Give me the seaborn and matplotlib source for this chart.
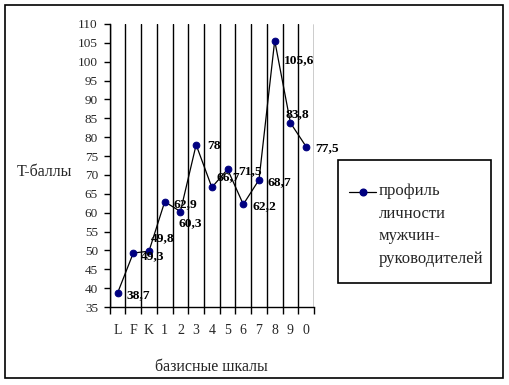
import numpy as np
import matplotlib
matplotlib.use("Agg")
import matplotlib.pyplot as plt
import seaborn as sns
from matplotlib.patches import Rectangle
from matplotlib.lines import Line2D

# ---- data ----
scales = ["L", "F", "K", "1", "2", "3", "4", "5", "6", "7", "8", "9", "0"]
t_scores = [38.7, 49.3, 49.8, 62.9, 60.3, 78.0, 66.7, 71.5, 62.2, 68.7, 105.6, 83.8, 77.5]
value_labels = ["38,7", "49,3", "49,8", "62,9", "60,3", "78", "66,7", "71,5",
                "62,2", "68,7", "105,6", "83,8", "77,5"]
y_ticks = list(range(35, 111, 5))
series_name = "профиль\nличности\nмужчин-\nруководителей"

# label offsets (pixels: right, down)
label_offsets = [(9, 2), (8, 3), (2, -13), (9, 2), (-2, 12), (11, 1), (5, -10),
                 (11, 2), (9, 2), (9, 2), (9, 20), (-5, -9), (9, 2)]

sns.set_theme(style="white")
plt.rcParams["font.family"] = ["Liberation Serif", "DejaVu Serif"]

W, H = 510, 385
fig = plt.figure(figsize=(W / 100, H / 100), dpi=100)
fig.patch.set_facecolor("white")
x0, x1, ytop, ybot = 109.7, 314.0, 24.0, 307.0
ax = fig.add_axes([x0 / W, 1 - ybot / H, (x1 - x0) / W, (ybot - ytop) / H])
ax.set_facecolor("white")

xs = np.arange(len(scales))
sns.lineplot(x=xs, y=t_scores, ax=ax, color="black", linewidth=0.9, sort=False,
             marker="o", markersize=4.8, markerfacecolor="#000080",
             markeredgecolor="#000080", zorder=3)

ax.set_xlim(-0.5, len(scales) - 0.5)
ax.set_ylim(35, 110)
ax.set_yticks(y_ticks)
ax.set_yticklabels([str(v) for v in y_ticks], fontsize=9.5)

# major ticks at category boundaries (with gridlines), labels at centers
ax.set_xticks(np.arange(-0.5, len(scales), 1.0))
ax.set_xticklabels([])
ax.set_xticks(xs, minor=True)
ax.set_xticklabels(scales, minor=True, fontsize=10)
ax.tick_params(axis="x", which="major", direction="out", length=5, width=1,
               color="black", bottom=True)
ax.tick_params(axis="x", which="minor", length=0, pad=12)
ax.tick_params(axis="y", direction="out", length=4.5, width=1, color="black",
               left=True, pad=4)
ax.grid(True, axis="x", which="major", color="black", linewidth=1)
ax.grid(False, axis="y")
ax.set_axisbelow(True)

for s in ["top", "right"]:
    ax.spines[s].set_visible(False)
for s in ["left", "bottom"]:
    ax.spines[s].set_visible(True)
    ax.spines[s].set_color("black")
    ax.spines[s].set_linewidth(1)

for xi, yi, lab, (dx, dy) in zip(xs, t_scores, value_labels, label_offsets):
    ax.annotate(lab, (xi, yi), xytext=(dx * 0.72, -dy * 0.72),
                textcoords="offset points", ha="left", va="center",
                fontsize=9.7, fontweight="bold", color="black", zorder=4,
                annotation_clip=False)

ax.set_xlabel("базисные шкалы", fontsize=11.5)
ax.xaxis.set_label_coords((211 - x0) / (x1 - x0), (ybot - 359) / (ybot - ytop))
ax.set_ylabel("T-баллы", fontsize=11.5, rotation=0, ha="center", va="center")
ax.yaxis.set_label_coords((44 - x0) / (x1 - x0), (ybot - 172) / (ybot - ytop))

# outer border
fig.patches.append(Rectangle((5 / W, 1 - 378 / H), (503 - 5) / W, (378 - 5) / H,
                             transform=fig.transFigure, fill=False,
                             edgecolor="black", linewidth=1.2))
# legend box
lx0, lx1, ly0, ly1 = 338, 491, 160, 283
fig.patches.append(Rectangle((lx0 / W, 1 - ly1 / H), (lx1 - lx0) / W, (ly1 - ly0) / H,
                             transform=fig.transFigure, fill=False,
                             edgecolor="black", linewidth=1.2))
fig.lines.append(Line2D([349 / W, 376 / W], [1 - 192 / H, 1 - 192 / H],
                        transform=fig.transFigure, color="black", linewidth=0.9))
fig.lines.append(Line2D([362.5 / W], [1 - 192 / H], transform=fig.transFigure,
                        marker="o", markersize=4.8, color="#000080", linestyle="none"))
fig.text(379 / W, 1 - 183 / H, series_name, fontsize=12, ha="left", va="top",
         linespacing=1.56)

fig.savefig("out.png", dpi=100, facecolor="white")
